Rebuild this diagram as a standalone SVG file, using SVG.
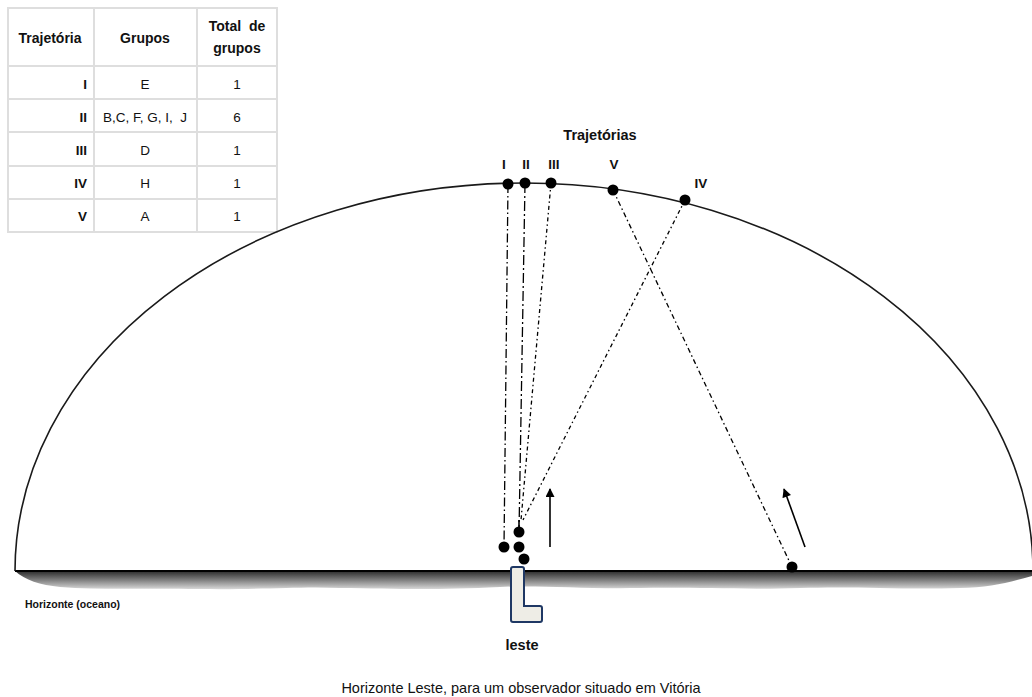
<svg xmlns="http://www.w3.org/2000/svg" width="1032" height="697" viewBox="0 0 1032 697">
<style>
.t{font-family:"Liberation Sans",Arial,sans-serif;fill:#111}
.b{font-weight:bold}
.cell{fill:#fff;stroke:#dedede;stroke-width:2}
.dot{fill:#000}
.traj{fill:none;stroke:#000;stroke-width:1.3}
.arr{stroke:#000;stroke-width:1.6;fill:none;marker-end:url(#ah)}
</style>
<defs>
<marker id="ah" viewBox="0 0 10 10" refX="9" refY="5" markerWidth="10" markerHeight="9" markerUnits="userSpaceOnUse" orient="auto"><path d="M0,0 L10,5 L0,10 Z" fill="#000"/></marker>
<linearGradient id="sea" x1="0" y1="0" x2="0" y2="1"><stop offset="0" stop-color="#2a2a2a"/><stop offset="0.45" stop-color="#777"/><stop offset="1" stop-color="#d8d8d8"/></linearGradient>
</defs>
<rect width="1032" height="697" fill="#fff"/>

<g id="table">
<rect class="cell" x="8" y="8" width="86" height="58"/>
<rect class="cell" x="94" y="8" width="103" height="58"/>
<rect class="cell" x="197" y="8" width="80" height="58"/>
<rect class="cell" x="8" y="66" width="86" height="33"/><rect class="cell" x="94" y="66" width="103" height="33"/><rect class="cell" x="197" y="66" width="80" height="33"/>
<rect class="cell" x="8" y="99" width="86" height="33"/><rect class="cell" x="94" y="99" width="103" height="33"/><rect class="cell" x="197" y="99" width="80" height="33"/>
<rect class="cell" x="8" y="132" width="86" height="34"/><rect class="cell" x="94" y="132" width="103" height="34"/><rect class="cell" x="197" y="132" width="80" height="34"/>
<rect class="cell" x="8" y="166" width="86" height="33"/><rect class="cell" x="94" y="166" width="103" height="33"/><rect class="cell" x="197" y="166" width="80" height="33"/>
<rect class="cell" x="8" y="199" width="86" height="33"/><rect class="cell" x="94" y="199" width="103" height="33"/><rect class="cell" x="197" y="199" width="80" height="33"/>
<g class="t b" font-size="14" text-anchor="middle">
<text x="50" y="43">Trajetória</text>
<text x="145" y="43">Grupos</text>
<text x="237" y="31" xml:space="preserve">Total  de</text>
<text x="237" y="53">grupos</text>
</g>
<g class="t b" font-size="13.5" text-anchor="end">
<text x="87" y="89">I</text>
<text x="87" y="122">II</text>
<text x="87" y="155">III</text>
<text x="87" y="188">IV</text>
<text x="87" y="221">V</text>
</g>
<g class="t" font-size="13.5" text-anchor="middle">
<text x="145" y="89">E</text>
<text x="145" y="122" xml:space="preserve">B,C, F, G, I,  J</text>
<text x="145" y="155">D</text>
<text x="145" y="188">H</text>
<text x="145" y="221">A</text>
<text x="237" y="89">1</text>
<text x="237" y="122">6</text>
<text x="237" y="155">1</text>
<text x="237" y="188">1</text>
<text x="237" y="221">1</text>
</g>
</g>

<g id="horizon">
<path d="M15,571 L1032,571 L1032,576 C1010,582 990,588 960,588 C900,590 860,586 800,588 C740,590 700,587 640,588 C580,589 540,585 500,587 C440,590 400,589 340,588 C300,586 260,590 200,589 C140,588 100,590 60,587 C40,585 25,580 15,571 Z" fill="url(#sea)"/>
<line x1="15" y1="571" x2="1032" y2="571" stroke="#000" stroke-width="2"/>
<text class="t b" x="25" y="608" font-size="10.5">Horizonte (oceano)</text>
</g>

<g id="dome">
<path d="M15,571 A509,388 0 0 1 1033,571" fill="none" stroke="#1a1a1a" stroke-width="1.6"/>
</g>

<g id="connectors">
<line class="traj" x1="508" y1="184" x2="504" y2="547" stroke-dasharray="9,3,1.5,3"/>
<line class="traj" x1="525" y1="183" x2="519" y2="532" stroke-width="2" stroke-dasharray="10,3,2,3"/>
<line class="traj" x1="551" y1="183" x2="521" y2="520" stroke-dasharray="4,3,1.5,3"/>
<line class="traj" x1="685" y1="200" x2="523" y2="520" stroke-dasharray="4,3,1.5,3"/>
<line class="traj" x1="613" y1="190" x2="792" y2="567" stroke-dasharray="5,3,1.5,3"/>
<line x1="519" y1="520" x2="519" y2="532" stroke="#000" stroke-width="1.6"/>
<line class="arr" x1="550" y1="547" x2="550" y2="489"/>
<line class="arr" x1="805" y1="547" x2="784" y2="489"/>
</g>

<g id="points">
<circle class="dot" cx="508" cy="184" r="5.5"/>
<circle class="dot" cx="525" cy="183" r="5.5"/>
<circle class="dot" cx="551" cy="183" r="5.5"/>
<circle class="dot" cx="613" cy="190" r="5.5"/>
<circle class="dot" cx="685" cy="200" r="5.5"/>
<circle class="dot" cx="504" cy="547" r="5.5"/>
<circle class="dot" cx="519" cy="532" r="5.5"/>
<circle class="dot" cx="519" cy="547" r="5.5"/>
<circle class="dot" cx="524" cy="559" r="5.5"/>
<circle class="dot" cx="792" cy="567" r="5.5"/>
</g>

<g id="labels" class="t b" font-size="13.5" text-anchor="middle">
<text x="600" y="140" font-size="14.5">Trajetórias</text>
<text x="504" y="169">I</text>
<text x="526" y="169">II</text>
<text x="554" y="169">III</text>
<text x="614" y="169">V</text>
<text x="701" y="188">IV</text>
</g>

<g id="observer">
<path d="M513,567 L522,567 Q524,567 524,569 L524,606 L540,606 Q542,606 542,608 L542,620 Q542,622 540,622 L513,622 Q511,622 511,620 L511,569 Q511,567 513,567 Z" fill="#eeede6" stroke="#1f3864" stroke-width="2"/>
<text class="t b" x="522" y="650" font-size="14.5" text-anchor="middle">leste</text>
</g>

<text class="t" x="521" y="693" font-size="14.5" text-anchor="middle">Horizonte Leste, para um observador situado em Vitória</text>
</svg>
